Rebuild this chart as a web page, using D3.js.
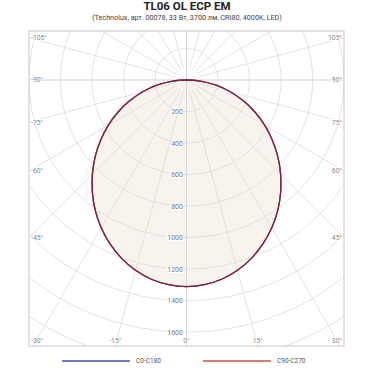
<!DOCTYPE html>
<html><head><meta charset="utf-8">
<script src="https://cdn.jsdelivr.net/npm/d3@7"></script>
<style>html,body{margin:0;padding:0;background:#fff;}svg{display:block;font-family:Roboto,"Noto Sans",sans-serif;}</style>
</head><body><svg id="c" width="374" height="374"></svg>
<script>
// ---- data ----
const title = "TL06 OL ECP EM";
const subtitle = "(Technolux, арт. 00078, 33 Вт, 3700 лм, CRI80, 4000K, LED)";
const gammaAngles = [0,5,10,15,20,25,30,35,40,45,50,55,60,65,70,75,80,85,90];
// C0 (right half) and C180 (left half)
const c0Values   = [1310,1303,1283,1249,1204,1147,1082,1009,929,844,756,664,572,477,382,287,191,96,0];
const c180Values = [1310,1303,1283,1249,1204,1147,1082,1009,929,844,756,664,572,477,382,287,191,96,0];
// C90 (right half) and C270 (left half)
const c90Values  = [1310,1303,1283,1249,1204,1147,1082,1009,929,844,756,664,572,477,382,287,191,96,0];
const c270Values = [1310,1303,1283,1249,1204,1147,1082,1009,929,844,756,664,572,477,382,287,191,96,0];
const ringValues = [200,400,600,800,1000,1200,1400,1600,1800,2000,2200];
const ringLabels = ["200","400","600","800","1000","1200","1400","1600"];
const spokeAngles = d3.range(-165, 195, 15);
const labelAngles = [-105,-90,-75,-60,-45,-30,-15,0,15,30,45,60,75,90,105];
const seriesNames = ["C0-C180","C90-C270"];

// ---- layout ----
const svg = d3.select("#c");
const box = {l:29, t:31, r:344, b:346};
const cx = 186.5, cy = 80;
const rScale = d3.scaleLinear().domain([0,1600]).range([0,252.3]);

svg.append("text").attr("x",187).attr("y",10).attr("text-anchor","middle")
  .attr("font-size",11.5).attr("font-weight","bold").attr("fill","#222").text(title);
svg.append("text").attr("x",187).attr("y",20.3).attr("text-anchor","middle")
  .attr("font-size",7.2).attr("fill","#444").text(subtitle);

svg.append("defs").append("clipPath").attr("id","clip")
  .append("rect").attr("x",box.l).attr("y",box.t).attr("width",box.r-box.l).attr("height",box.b-box.t);

const g = svg.append("g").attr("clip-path","url(#clip)");

// closed curve points: angle from nadir, positive to the right (origin included once)
function toPoints(leftVals, rightVals){
  const pts = [];
  for(let i=gammaAngles.length-1;i>=0;i--) pts.push([-gammaAngles[i], leftVals[i]]);
  for(let i=1;i<gammaAngles.length-1;i++) pts.push([gammaAngles[i], rightVals[i]]);
  return pts;
}
const radial = d3.lineRadial()
  .angle(d => Math.PI - d[0]*Math.PI/180)
  .radius(d => rScale(d[1]))
  .curve(d3.curveCatmullRomClosed.alpha(0.5));

const fillG = g.append("g").attr("transform",`translate(${cx},${cy})`);
fillG.append("path").attr("d", radial(toPoints(c270Values,c90Values))).attr("fill","#f8f3ec").attr("stroke","none");

const gridG = g.append("g").attr("transform",`translate(${cx},${cy})`);
gridG.selectAll("circle").data(ringValues).join("circle")
  .attr("r", d=>rScale(d)).attr("fill","none").attr("stroke","#dcdcdc").attr("stroke-width",0.8);
gridG.selectAll("line.sp").data(spokeAngles).join("line").attr("class","sp")
  .attr("x1", d => (d%90===0?0:12)*Math.sin(d*Math.PI/180))
  .attr("y1", d => (d%90===0?0:12)*Math.cos(d*Math.PI/180))
  .attr("x2", d => 600*Math.sin(d*Math.PI/180))
  .attr("y2", d => 600*Math.cos(d*Math.PI/180))
  .attr("stroke","#dcdcdc").attr("stroke-width",0.8);
gridG.append("line").attr("x1",-400).attr("x2",400).attr("y1",0).attr("y2",0).attr("stroke","#dcdcdc").attr("stroke-width",0.8);
gridG.append("line").attr("x1",0).attr("x2",0).attr("y1",-400).attr("y2",400).attr("stroke","#d4d4d4").attr("stroke-width",0.8);

const curveG = g.append("g").attr("transform",`translate(${cx},${cy})`);
curveG.append("path").attr("d", radial(toPoints(c180Values,c0Values))).attr("fill","none").attr("stroke","#3b3b9a").attr("stroke-width",1.3);
curveG.append("path").attr("d", radial(toPoints(c270Values,c90Values))).attr("fill","none").attr("stroke","#8e1f30").attr("stroke-width",1.3);

// radial labels
const rl = svg.append("g");
rl.selectAll("text").data(ringLabels).join("text")
  .attr("x", cx-3.5).attr("y", (d,i)=>cy+rScale(ringValues[i]))
  .attr("dy","0.35em").attr("text-anchor","end").attr("font-size",7).attr("fill","#777")
  .attr("stroke","#fff").attr("stroke-width",2).attr("paint-order","stroke").text(d=>d);

// box border
svg.append("rect").attr("x",box.l).attr("y",box.t).attr("width",box.r-box.l).attr("height",box.b-box.t)
  .attr("fill","none").attr("stroke","#c8c8c8").attr("stroke-width",1);

// angle labels at box edges
const al = svg.append("g").attr("font-size",6.8).attr("fill","#888");
labelAngles.forEach(a=>{
  const s = Math.sin(a*Math.PI/180), c = Math.cos(a*Math.PI/180);
  let x,y,anchor;
  const tSide = Math.abs(s)>1e-9 ? (s<0 ? (cx-box.l)/(-s) : (box.r-cx)/s) : Infinity;
  const tBot = c>0 ? (box.b-cy)/c : Infinity;
  if(tSide < tBot){
    y = Math.max(box.t+4.5, cy + tSide*c);
    if(s<0){x = box.l+2; anchor="start";} else {x = box.r-2; anchor="end";}
  } else {
    y = box.b-5; x = cx + tBot*s;
    anchor="middle";
    if(x < box.l+8){x = box.l+2; anchor="start";}
    else if(x > box.r-8){x = box.r-2; anchor="end";}
  }
  al.append("text").attr("x",x).attr("y",y).attr("dy","0.35em").attr("text-anchor",anchor)
    .attr("stroke","#fff").attr("stroke-width",2).attr("paint-order","stroke").text(a+"°");
});

// legend
const legColors = ["#4a4aa8","#c0504d"];
const legX = [62,203];
const lg = svg.append("g");
seriesNames.forEach((n,i)=>{
  lg.append("line").attr("x1",legX[i]).attr("x2",legX[i]+68).attr("y1",361).attr("y2",361)
    .attr("stroke",legColors[i]).attr("stroke-width",1.5);
  lg.append("text").attr("x",legX[i]+74).attr("y",361).attr("dy","0.35em")
    .attr("font-size",6.5).attr("fill","#555").text(n);
});
</script></body></html>
